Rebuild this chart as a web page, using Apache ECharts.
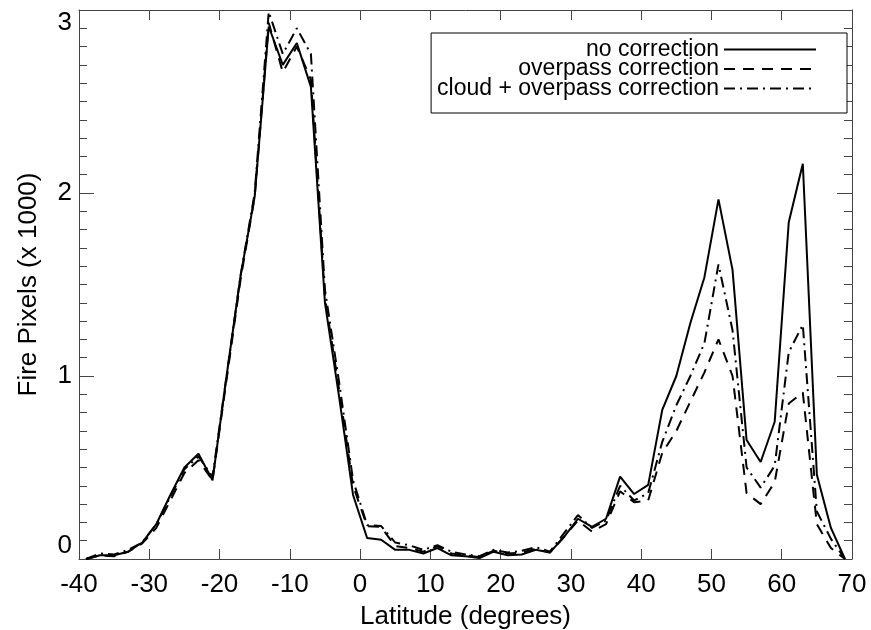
<!DOCTYPE html>
<html>
<head>
<meta charset="utf-8">
<script src="https://cdn.jsdelivr.net/npm/echarts@6/dist/echarts.min.js"></script>
<style>
    html, body { margin: 0; padding: 0; background: #fff; }
    #chart { width: 871px; height: 630px; }
</style>
</head>
<body>
<div id="chart"></div>
<script>
// latitude bins (degrees)
const latitudes = [
    -39, -37, -35, -33, -31, -29, -27, -25, -23, -21,
    -19, -17, -15, -13, -11, -9, -7, -5, -3, -1,
    1, 3, 5, 7, 9, 11, 13, 15, 17, 19,
    21, 23, 25, 27, 29, 31, 33, 35, 37, 39,
    41, 43, 45, 47, 49, 51, 53, 55, 57, 59,
    61, 63, 65, 67, 69,
];

// fire pixels (x 1000)
const noCorrection = [
    0.0, 0.02, 0.02, 0.04, 0.09, 0.19, 0.35, 0.50, 0.575, 0.43,
    1.0, 1.55, 1.98, 2.91, 2.70, 2.82, 2.58, 1.40, 0.89, 0.35,
    0.115, 0.105, 0.05, 0.05, 0.03, 0.06, 0.02, 0.015, 0.005, 0.04,
    0.02, 0.025, 0.05, 0.035, 0.12, 0.22, 0.175, 0.22, 0.45, 0.355,
    0.405, 0.815, 1.0, 1.29, 1.54, 1.965, 1.58, 0.65, 0.53, 0.75,
    1.84, 2.16, 0.46, 0.17, 0.0,
];
const overpassCorrection = [
    0.0, 0.02, 0.015, 0.04, 0.085, 0.17, 0.32, 0.47, 0.54, 0.43,
    0.98, 1.53, 1.98, 2.93, 2.66, 2.80, 2.62, 1.43, 0.93, 0.40,
    0.18, 0.175, 0.07, 0.06, 0.04, 0.07, 0.03, 0.02, 0.01, 0.045,
    0.03, 0.035, 0.055, 0.035, 0.12, 0.21, 0.15, 0.19, 0.37, 0.31,
    0.32, 0.58, 0.70, 0.86, 1.02, 1.20, 1.0, 0.36, 0.30, 0.42,
    0.85, 0.91, 0.19, 0.06, 0.0,
];
const cloudOverpassCorrection = [
    0.0, 0.03, 0.025, 0.05, 0.09, 0.19, 0.34, 0.49, 0.56, 0.45,
    1.0, 1.55, 2.0, 2.99, 2.76, 2.90, 2.76, 1.47, 0.97, 0.43,
    0.185, 0.18, 0.09, 0.075, 0.05, 0.075, 0.04, 0.025, 0.015, 0.05,
    0.035, 0.045, 0.065, 0.04, 0.14, 0.24, 0.17, 0.21, 0.40, 0.32,
    0.36, 0.64, 0.84, 1.0, 1.18, 1.61, 1.25, 0.50, 0.39, 0.51,
    1.13, 1.28, 0.26, 0.11, 0.0,
];

const seriesNames = ['no correction', 'overpass correction', 'cloud + overpass correction'];

const FONT = 'Liberation Sans, Arial, Helvetica, sans-serif';
const AXIS_COLOR = '#444';

const pairs = vals => latitudes.map((lat, i) => [lat, vals[i]]);

const chart = echarts.init(document.getElementById('chart'), null, { renderer: 'canvas' });

// shared frame axis pieces
const xBase = {
    type: 'value',
    min: -40,
    max: 70,
    interval: 10,
    axisLine: { show: true, onZero: false, lineStyle: { color: AXIS_COLOR, width: 1 } },
    axisTick: { show: true, inside: true, length: 10, lineStyle: { color: AXIS_COLOR } },
    splitLine: { show: false },
};
const yBase = {
    type: 'value',
    min: 0,
    max: 3,
    interval: 1,
    axisLine: { show: true, onZero: false, lineStyle: { color: AXIS_COLOR, width: 1 } },
    axisTick: { show: true, inside: true, length: 15, lineStyle: { color: AXIS_COLOR } },
    minorTick: { show: true, splitNumber: 10, length: 8, lineStyle: { color: AXIS_COLOR } },
    splitLine: { show: false },
    minorSplitLine: { show: false },
};

const option = {
    animation: false,
    backgroundColor: '#fff',
    textStyle: { fontFamily: FONT },
    grid: { left: 79, right: 19, top: 10, bottom: 71, containLabel: false, outerBoundsMode: 'none' },
    legend: {
        data: seriesNames,
        orient: 'vertical',
        align: 'right',
        right: 24,
        top: 33,
        itemWidth: 92,
        itemHeight: 12,
        itemGap: -3.5,
        padding: [5, 30, 13, 6],
        borderColor: '#000',
        borderWidth: 1,
        borderRadius: 0,
        backgroundColor: '#fff',
        itemStyle: { opacity: 0 },
        textStyle: { fontSize: 23, color: '#000', fontFamily: FONT },
    },
    xAxis: [
        Object.assign({}, xBase, {
            position: 'bottom',
            name: 'Latitude (degrees)',
            nameLocation: 'middle',
            nameGap: 45,
            nameTextStyle: { fontSize: 26, color: '#000', fontFamily: FONT },
            axisLabel: { fontSize: 26, color: '#000', margin: 13, fontFamily: FONT },
        }),
        Object.assign({}, xBase, {
            position: 'top',
            axisLabel: { show: false },
        }),
    ],
    yAxis: [
        Object.assign({}, yBase, {
            position: 'left',
            name: 'Fire Pixels (x 1000)',
            nameLocation: 'middle',
            nameGap: 37,
            nameTextStyle: { fontSize: 26, color: '#000', fontFamily: FONT },
            axisLabel: {
                fontSize: 26,
                color: '#000',
                margin: 7,
                fontFamily: FONT,
                verticalAlignMinLabel: 'bottom',
                verticalAlignMaxLabel: 'top',
            },
        }),
        Object.assign({}, yBase, {
            position: 'right',
            axisLabel: { show: false },
        }),
    ],
    series: [
        {
            name: seriesNames[0],
            type: 'line',
            symbol: 'none',
            data: pairs(noCorrection),
            lineStyle: { color: '#000', width: 2, type: 'solid' },
            itemStyle: { color: '#000' },
        },
        {
            name: seriesNames[1],
            type: 'line',
            symbol: 'none',
            data: pairs(overpassCorrection),
            lineStyle: { color: '#000', width: 2, type: [11, 8] },
            itemStyle: { color: '#000' },
        },
        {
            name: seriesNames[2],
            type: 'line',
            symbol: 'none',
            data: pairs(cloudOverpassCorrection),
            lineStyle: { color: '#000', width: 2, type: [11, 5, 2, 5] },
            itemStyle: { color: '#000' },
        },
    ],
};

chart.setOption(option);
</script>
</body>
</html>
